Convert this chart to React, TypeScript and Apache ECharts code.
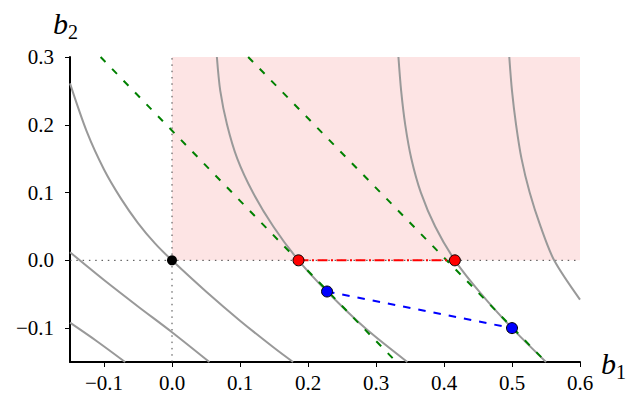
import React, { useEffect, useRef } from "react";
import * as echarts from "echarts";

// Tick values
const xTicks = [-0.1, 0.0, 0.1, 0.2, 0.3, 0.4, 0.5, 0.6];
const yTicks = [-0.1, 0.0, 0.1, 0.2, 0.3];

// Grey level curves
const curveA = [[-0.15, 0.261], [-0.125, 0.189], [-0.1, 0.134], [-0.075, 0.091], [-0.05, 0.055], [-0.025, 0.025], [0.0, 0.0], [0.05, -0.046], [0.1, -0.089], [0.15, -0.129], [0.178, -0.15]];
const curveB = [[-0.15, 0.012], [-0.1, -0.029], [-0.05, -0.068], [0.0, -0.106], [0.055, -0.15]];
const curveC = [[-0.15, -0.092], [-0.111, -0.119], [-0.069, -0.15]];
const curveD = [[0.066, 0.3], [0.071, 0.25], [0.081, 0.2], [0.096, 0.15], [0.119, 0.1], [0.149, 0.05], [0.186, 0.0], [0.228, -0.046], [0.284, -0.1], [0.346, -0.15]];
const curveE = [[0.333, 0.3], [0.337, 0.25], [0.343, 0.2], [0.352, 0.15], [0.366, 0.1], [0.387, 0.05], [0.416, 0.0], [0.455, -0.05], [0.5, -0.1], [0.55, -0.15]];
const curveF = [[0.496, 0.3], [0.5, 0.25], [0.506, 0.2], [0.514, 0.15], [0.526, 0.1], [0.542, 0.05], [0.562, 0.0], [0.6, -0.058]];

// Tangent lines (green dashed)
const tangent1 = [[-0.105, 0.3], [0.33, -0.15]];
const tangent2 = [[0.112, 0.3], [0.55, -0.15]];

// Segments and points
const redSegment = [[0.186, 0.0], [0.416, 0.0]];
const blueSegment = [[0.228, -0.046], [0.5, -0.1]];
const redPoints = [[0.186, 0.0], [0.416, 0.0]];
const bluePoints = [[0.228, -0.046], [0.5, -0.1]];
const originPoint = [[0.0, 0.0]];

// Reference lines (dotted) and shaded region
const hLine = [[-0.15, 0.0], [0.6, 0.0]];
const vLine = [[0.0, -0.15], [0.0, 0.3]];
const region = [[0.0, 0.0], [0.6, 0.3]];

const fmt = (v: number) => {
  const s = Math.abs(v) < 1e-9 ? "0.0" : v.toFixed(1);
  return s.replace("-", "\u2212");
};

const tickFont = { fontFamily: "Liberation Serif", fontSize: 21, color: "#000" };

export default function App() {
  const ref = useRef<HTMLDivElement>(null);
  useEffect(() => {
    if (!ref.current) return;
    const chart = echarts.init(ref.current, undefined, { renderer: "svg" });
    const grey = (data: number[][]) => ({
      type: "line",
      data,
      smooth: 0.3,
      symbol: "none",
      lineStyle: { color: "#999999", width: 2 },
      z: 3,
    });
    chart.setOption({
      animation: false,
      grid: { left: 70, right: 47, top: 57, bottom: 32, containLabel: false },
      xAxis: {
        type: "value",
        min: -0.15,
        max: 0.6,
        axisLine: { onZero: false, lineStyle: { color: "#000", width: 2 } },
        axisTick: { show: true, customValues: xTicks, length: 5, lineStyle: { color: "#000", width: 1 } },
        axisLabel: { customValues: xTicks, formatter: fmt, margin: 10, ...tickFont },
        splitLine: { show: false },
      },
      yAxis: {
        type: "value",
        min: -0.15,
        max: 0.3,
        axisLine: { show: true, onZero: false, lineStyle: { color: "#000", width: 2 } },
        axisTick: { show: true, customValues: yTicks, length: 5, lineStyle: { color: "#000", width: 1 } },
        axisLabel: { customValues: yTicks, formatter: fmt, margin: 16, ...tickFont },
        splitLine: { show: false },
      },
      graphic: [
        {
          type: "text",
          left: 53,
          top: 8,
          style: { text: "b", font: "italic 30px 'Liberation Serif'", fill: "#000" },
        },
        {
          type: "text",
          left: 68,
          top: 22,
          style: { text: "2", font: "20px 'Liberation Serif'", fill: "#000" },
        },
        {
          type: "text",
          left: 601,
          top: 348,
          style: { text: "b", font: "italic 30px 'Liberation Serif'", fill: "#000" },
        },
        {
          type: "text",
          left: 616,
          top: 362,
          style: { text: "1", font: "20px 'Liberation Serif'", fill: "#000" },
        },
      ],
      series: [
        {
          type: "line",
          data: region,
          symbol: "none",
          lineStyle: { opacity: 0 },
          markArea: {
            silent: true,
            itemStyle: { color: "#fde4e4", opacity: 1 },
            data: [[{ coord: region[0] }, { coord: region[1] }]],
          },
          z: 1,
        },
        {
          type: "line",
          data: hLine,
          symbol: "none",
          lineStyle: { color: "#444", width: 1, type: [1.5, 4.8] },
          z: 2,
        },
        {
          type: "line",
          data: vLine,
          symbol: "none",
          lineStyle: { color: "#444", width: 1, type: [1.5, 4.8] },
          z: 2,
        },
        grey(curveA),
        grey(curveB),
        grey(curveC),
        grey(curveD),
        grey(curveE),
        grey(curveF),
        {
          type: "line",
          data: tangent1,
          symbol: "none",
          lineStyle: { color: "#008000", width: 2, type: [7, 9.5] },
          z: 4,
        },
        {
          type: "line",
          data: tangent2,
          symbol: "none",
          lineStyle: { color: "#008000", width: 2, type: [7, 9.5] },
          z: 4,
        },
        {
          type: "line",
          data: redSegment,
          symbol: "none",
          lineStyle: { color: "#ff0000", width: 2, type: [10, 3.5, 2, 3.5] },
          z: 5,
        },
        {
          type: "line",
          data: blueSegment,
          symbol: "none",
          lineStyle: { color: "#0000ff", width: 2, type: [7.5, 8] },
          z: 5,
        },
        {
          type: "scatter",
          data: redPoints,
          symbolSize: 11,
          itemStyle: { color: "#ff0000", borderColor: "#000", borderWidth: 1, opacity: 1 },
          z: 6,
        },
        {
          type: "scatter",
          data: bluePoints,
          symbolSize: 11,
          itemStyle: { color: "#0000ff", borderColor: "#000", borderWidth: 1, opacity: 1 },
          z: 6,
        },
        {
          type: "scatter",
          data: originPoint,
          symbolSize: 10,
          itemStyle: { color: "#000", opacity: 1 },
          z: 6,
        },
      ],
    });
    return () => chart.dispose();
  }, []);
  return (
    <div
      ref={ref}
      style={{ position: "absolute", left: 0, top: 0, width: 627, height: 394 }}
    />
  );
}
